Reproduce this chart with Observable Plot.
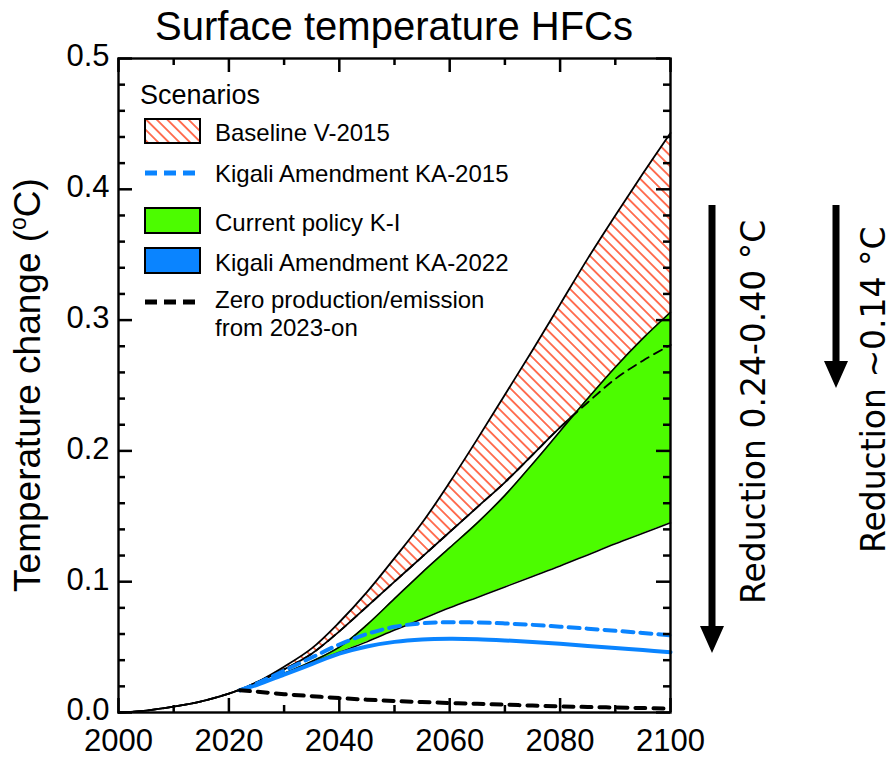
<!DOCTYPE html>
<html><head><meta charset="utf-8">
<script src="https://cdn.jsdelivr.net/npm/d3@7"></script>
<script src="https://cdn.jsdelivr.net/npm/@observablehq/plot@0.6"></script>
<style>
body{margin:0;background:#fff;}
#chart{width:894px;height:761px;}
</style></head><body><div id="chart"></div>
<script>
// ---- data ----
const years = [2000, 2005, 2010, 2015, 2020, 2022, 2025, 2030, 2035, 2040, 2045, 2050, 2055, 2060, 2065, 2070, 2075, 2080, 2085, 2090, 2095, 2100];
const baselineHigh = [0, 0.0015, 0.0045, 0.0085, 0.0145, 0.0175, 0.023, 0.035, 0.049, 0.069, 0.092, 0.118, 0.145, 0.176, 0.209, 0.243, 0.277, 0.312, 0.347, 0.380, 0.412, 0.443];
const baselineLow  = [0, 0.0015, 0.0045, 0.0085, 0.0145, 0.0175, 0.023, 0.033, 0.045, 0.062, 0.081, 0.100, 0.119, 0.138, 0.157, 0.176, 0.197, 0.218, 0.237, 0.255, 0.269, 0.281];

const policyYears = [2022, 2025, 2030, 2035, 2040, 2045, 2050, 2055, 2060, 2065, 2070, 2075, 2080, 2085, 2090, 2095, 2100];
const kiHigh = [0.017, 0.021, 0.030, 0.039, 0.050, 0.067, 0.087, 0.107, 0.126, 0.145, 0.166, 0.190, 0.215, 0.240, 0.264, 0.286, 0.306];
const kiLow  = [0.017, 0.021, 0.029, 0.038, 0.046, 0.054, 0.063, 0.0715, 0.080, 0.088, 0.096, 0.104, 0.112, 0.1205, 0.129, 0.137, 0.145];
const ka2015 = [0.017, 0.022, 0.032, 0.042, 0.052, 0.060, 0.0655, 0.0682, 0.069, 0.0688, 0.0681, 0.067, 0.0656, 0.0641, 0.0625, 0.0608, 0.059];
const ka2022 = [0.017, 0.021, 0.029, 0.037, 0.045, 0.0505, 0.054, 0.0558, 0.0563, 0.056, 0.0551, 0.0539, 0.0525, 0.0509, 0.0493, 0.0477, 0.0461];
const zeroEmission = [0.017, 0.016, 0.014, 0.0125, 0.011, 0.0098, 0.0088, 0.008, 0.0073, 0.0066, 0.006, 0.0053, 0.0047, 0.0042, 0.0038, 0.0034, 0.003];

const xMajorTicks = [2000, 2020, 2040, 2060, 2080, 2100];
const xMinorTicks = [2010, 2030, 2050, 2070, 2090];
const yMajorTicks = [0, 0.1, 0.2, 0.3, 0.4, 0.5];
const yMinorTicks = [0.02, 0.04, 0.06, 0.08, 0.12, 0.14, 0.16, 0.18, 0.22, 0.24, 0.26, 0.28, 0.32, 0.34, 0.36, 0.38, 0.42, 0.44, 0.46, 0.48];

const titleText = "Surface temperature HFCs";
const yLabelMain = "Temperature change (";
const legendTitle = "Scenarios";
const legendLabels = ["Baseline V-2015", "Kigali Amendment KA-2015", "Current policy K-I", "Kigali Amendment KA-2022", "Zero production/emission", "from 2023-on"];
const arrowLabels = ["Reduction 0.24-0.40 °C", "Reduction ~0.14 °C"];

// ---- tables ----
const baseline = years.map((year, i) => ({year, lo: baselineLow[i], hi: baselineHigh[i]}));
const policy = policyYears.map((year, i) => ({year, kiLow: kiLow[i], kiHigh: kiHigh[i], ka2015: ka2015[i], ka2022: ka2022[i], zero: zeroEmission[i]}));

// ---- styles ----
const W = 894, H = 761, mL = 118, mR = 224, mT = 58, mB = 49;
const pw = W - mL - mR, ph = H - mT - mB;
const font = "'Liberation Sans', Arial, Helvetica, sans-serif";
const green = "#4cfc00", blue = "#0a84ff", hatchRed = "#ff2a00";
const curve = "catmull-rom";
const majLen = 14, minLen = 7, tickW = 2.5;

const plot = Plot.plot({
  width: W, height: H,
  marginLeft: mL, marginRight: mR, marginTop: mT, marginBottom: mB,
  style: {fontFamily: font, background: "white", color: "black", overflow: "visible"},
  x: {domain: [2000, 2100]},
  y: {domain: [0, 0.5]},
  marks: [
    Plot.areaY(baseline, {x: "year", y1: "lo", y2: "hi", fill: "url(#hatch)", curve}),
    Plot.line(baseline, {x: "year", y: "lo", stroke: "black", strokeWidth: 1.8, curve}),
    Plot.areaY(policy, {x: "year", y1: "kiLow", y2: "kiHigh", fill: green, curve}),
    Plot.line(baseline, {x: "year", y: "lo", stroke: "black", strokeWidth: 1.8, strokeDasharray: "9,6", curve}),
    Plot.line(baseline, {x: "year", y: "hi", stroke: "black", strokeWidth: 1.8, curve}),
    Plot.line(policy, {x: "year", y: "kiHigh", stroke: "black", strokeWidth: 1.6, curve}),
    Plot.line(policy, {x: "year", y: "kiLow", stroke: "black", strokeWidth: 1.6, curve}),
    Plot.line(policy, {x: "year", y: "ka2015", stroke: blue, strokeWidth: 4, strokeDasharray: "11,7", curve}),
    Plot.line(policy, {x: "year", y: "ka2022", stroke: blue, strokeWidth: 4, curve}),
    Plot.line(policy, {x: "year", y: "zero", stroke: "black", strokeWidth: 4, strokeDasharray: "10,8", curve}),
    // inward ticks on all four sides
    Plot.ruleY(yMajorTicks, {y: d => d, insetRight: pw - majLen, stroke: "black", strokeWidth: tickW}),
    Plot.ruleY(yMajorTicks, {y: d => d, insetLeft: pw - majLen, stroke: "black", strokeWidth: tickW}),
    Plot.ruleY(yMinorTicks, {y: d => d, insetRight: pw - minLen, stroke: "black", strokeWidth: tickW}),
    Plot.ruleY(yMinorTicks, {y: d => d, insetLeft: pw - minLen, stroke: "black", strokeWidth: tickW}),
    Plot.ruleX(xMajorTicks, {x: d => d, insetTop: ph - majLen, stroke: "black", strokeWidth: tickW}),
    Plot.ruleX(xMajorTicks, {x: d => d, insetBottom: ph - majLen, stroke: "black", strokeWidth: tickW}),
    Plot.ruleX(xMinorTicks, {x: d => d, insetTop: ph - minLen, stroke: "black", strokeWidth: tickW}),
    Plot.ruleX(xMinorTicks, {x: d => d, insetBottom: ph - minLen, stroke: "black", strokeWidth: tickW}),
    Plot.frame({stroke: "black", strokeWidth: 2.4}),
    Plot.axisX({ticks: xMajorTicks, tickSize: 0, tickPadding: 16, fontSize: 31, tickFormat: d => String(d), label: null}),
    Plot.axisY({ticks: yMajorTicks, tickSize: 0, tickPadding: 9, fontSize: 31, dy: -2, tickFormat: d => d.toFixed(1), label: null})
  ]
});

document.getElementById("chart").appendChild(plot);
const svg = d3.select(plot);

// hatch pattern
const defs = svg.insert("defs", ":first-child");
const pat = defs.append("pattern").attr("id", "hatch").attr("patternUnits", "userSpaceOnUse")
  .attr("width", 7.5).attr("height", 7.5).attr("patternTransform", "rotate(45)");
pat.append("rect").attr("width", 7.5).attr("height", 7.5).attr("fill", "white");
pat.append("line").attr("x1", 0).attr("y1", 3.75).attr("x2", 7.5).attr("y2", 3.75)
  .attr("stroke", hatchRed).attr("stroke-width", 1.3);

// title
svg.append("text").attr("x", mL + pw / 2).attr("y", 40).attr("text-anchor", "middle")
  .attr("font-family", font).attr("font-size", 40).attr("fill", "black").text(titleText);

// y label
const yl = svg.append("text").attr("transform", `translate(40,${mT + ph / 2}) rotate(-90)`)
  .attr("text-anchor", "middle").attr("font-family", font).attr("font-size", 37).attr("fill", "black");
yl.append("tspan").text(yLabelMain);
yl.append("tspan").attr("font-size", 23).attr("dy", -14).text("o");
yl.append("tspan").attr("dy", 14).text("C)");

// legend
const lg = svg.append("g").attr("font-family", font).attr("fill", "black").attr("text-anchor", "start");
lg.append("text").attr("x", 140).attr("y", 104).attr("font-size", 27).text(legendTitle);
const tx = 215, fs = 24;
lg.append("rect").attr("x", 145).attr("y", 119).attr("width", 55).attr("height", 24)
  .attr("fill", "url(#hatch)").attr("stroke", "black").attr("stroke-width", 2);
lg.append("text").attr("x", tx).attr("y", 141).attr("font-size", fs).text(legendLabels[0]);
lg.append("line").attr("x1", 145).attr("x2", 196).attr("y1", 173).attr("y2", 173)
  .attr("stroke", blue).attr("stroke-width", 5).attr("stroke-dasharray", "12,7");
lg.append("text").attr("x", tx).attr("y", 182).attr("font-size", fs).text(legendLabels[1]);
lg.append("rect").attr("x", 145).attr("y", 208).attr("width", 55).attr("height", 25)
  .attr("fill", green).attr("stroke", "black").attr("stroke-width", 2);
lg.append("text").attr("x", tx).attr("y", 231).attr("font-size", fs).text(legendLabels[2]);
lg.append("rect").attr("x", 145).attr("y", 248).attr("width", 55).attr("height", 25)
  .attr("fill", blue).attr("stroke", "black").attr("stroke-width", 2);
lg.append("text").attr("x", tx).attr("y", 271).attr("font-size", fs).text(legendLabels[3]);
lg.append("line").attr("x1", 145).attr("x2", 196).attr("y1", 302).attr("y2", 302)
  .attr("stroke", "black").attr("stroke-width", 5).attr("stroke-dasharray", "12,7");
lg.append("text").attr("x", tx).attr("y", 308).attr("font-size", fs).text(legendLabels[4]);
lg.append("text").attr("x", tx).attr("y", 336).attr("font-size", fs).text(legendLabels[5]);

// arrows with rotated labels
function arrow(x, ya, yb) {
  const sw = 3.5, hw = 12, hl = 27;
  svg.append("path").attr("fill", "black")
    .attr("d", `M${x - sw},${ya} L${x + sw},${ya} L${x + sw},${yb - hl} L${x + hw},${yb - hl} L${x},${yb} L${x - hw},${yb - hl} L${x - sw},${yb - hl} Z`);
}
arrow(712, 205, 653);
arrow(836, 205, 388);
const af = "'DejaVu Sans', Verdana, sans-serif";
svg.append("text").attr("transform", "translate(765,604) rotate(-90)").attr("text-anchor", "start")
  .attr("font-family", af).attr("font-size", 33).attr("fill", "black").text(arrowLabels[0]);
svg.append("text").attr("transform", "translate(885,553) rotate(-90)").attr("text-anchor", "start")
  .attr("font-family", af).attr("font-size", 33).attr("fill", "black").text(arrowLabels[1]);
</script></body></html>
